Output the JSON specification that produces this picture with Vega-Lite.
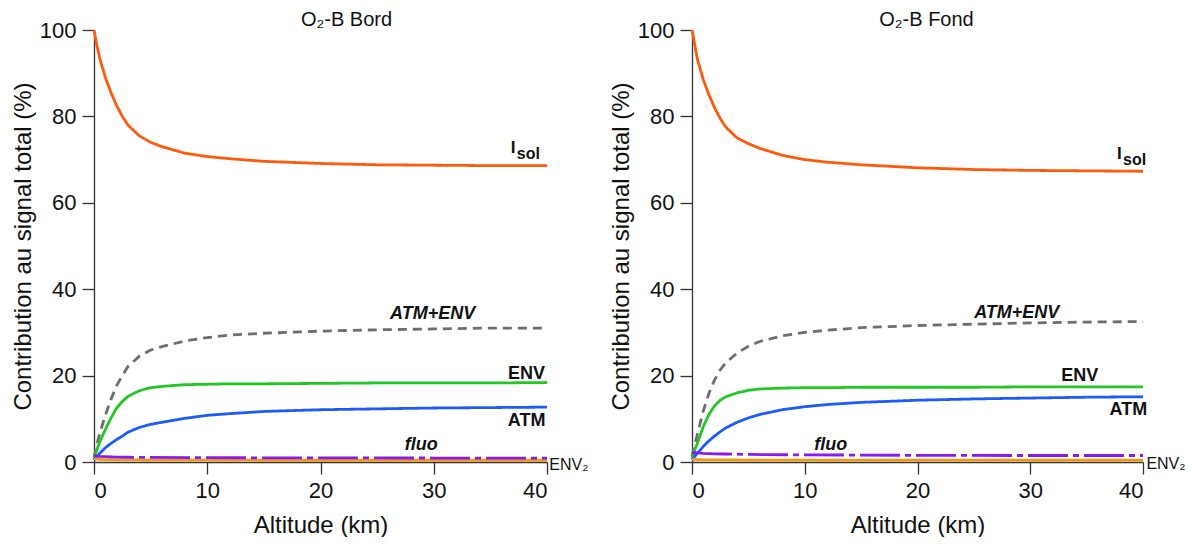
{
"$schema": "https://vega.github.io/schema/vega-lite/v6.json",
"background": "white",
"padding": {"left": 11, "top": 10, "right": 0, "bottom": 0},
"spacing": 145,
"bounds": "flush",
"config": {
  "font": "Liberation Sans",
  "view": {"stroke": null},
  "axis": {"grid": false, "domainColor": "#333333", "tickColor": "#333333", "labelColor": "#111111", "titleColor": "#111111", "labelFontSize": 22, "titleFontSize": 24, "titleFontWeight": "normal", "tickSize": 12, "labelPadding": 6, "domainWidth": 1.3, "tickWidth": 1.3},
  "title": {"fontSize": 20, "fontWeight": "normal", "offset": 1, "color": "#111111", "frame": "group", "dy": 12}
},
"datasets": {
  "curves": [
    {"panel":"Bord","series":"Isol","alt":0,"val":100},{"panel":"Bord","series":"Isol","alt":0.25,"val":96.5},{"panel":"Bord","series":"Isol","alt":0.5,"val":93.5},{"panel":"Bord","series":"Isol","alt":1,"val":89},{"panel":"Bord","series":"Isol","alt":1.5,"val":85.5},{"panel":"Bord","series":"Isol","alt":2,"val":82.5},{"panel":"Bord","series":"Isol","alt":2.5,"val":80},{"panel":"Bord","series":"Isol","alt":3,"val":78},{"panel":"Bord","series":"Isol","alt":4,"val":75.5},{"panel":"Bord","series":"Isol","alt":5,"val":74},{"panel":"Bord","series":"Isol","alt":6,"val":73},{"panel":"Bord","series":"Isol","alt":8,"val":71.5},{"panel":"Bord","series":"Isol","alt":10,"val":70.7},{"panel":"Bord","series":"Isol","alt":12,"val":70.2},{"panel":"Bord","series":"Isol","alt":15,"val":69.6},{"panel":"Bord","series":"Isol","alt":20,"val":69.1},{"panel":"Bord","series":"Isol","alt":25,"val":68.8},{"panel":"Bord","series":"Isol","alt":30,"val":68.7},{"panel":"Bord","series":"Isol","alt":35,"val":68.6},{"panel":"Bord","series":"Isol","alt":40,"val":68.6},
    {"panel":"Bord","series":"ATM+ENV","alt":0,"val":1},{"panel":"Bord","series":"ATM+ENV","alt":0.25,"val":4},{"panel":"Bord","series":"ATM+ENV","alt":0.5,"val":6.6},{"panel":"Bord","series":"ATM+ENV","alt":1,"val":10.8},{"panel":"Bord","series":"ATM+ENV","alt":1.5,"val":14.5},{"panel":"Bord","series":"ATM+ENV","alt":2,"val":17.7},{"panel":"Bord","series":"ATM+ENV","alt":2.5,"val":20},{"panel":"Bord","series":"ATM+ENV","alt":3,"val":22.1},{"panel":"Bord","series":"ATM+ENV","alt":4,"val":24.5},{"panel":"Bord","series":"ATM+ENV","alt":5,"val":25.9},{"panel":"Bord","series":"ATM+ENV","alt":6,"val":26.7},{"panel":"Bord","series":"ATM+ENV","alt":8,"val":28},{"panel":"Bord","series":"ATM+ENV","alt":10,"val":28.8},{"panel":"Bord","series":"ATM+ENV","alt":12,"val":29.4},{"panel":"Bord","series":"ATM+ENV","alt":15,"val":29.8},{"panel":"Bord","series":"ATM+ENV","alt":20,"val":30.3},{"panel":"Bord","series":"ATM+ENV","alt":25,"val":30.6},{"panel":"Bord","series":"ATM+ENV","alt":30,"val":30.8},{"panel":"Bord","series":"ATM+ENV","alt":35,"val":31},{"panel":"Bord","series":"ATM+ENV","alt":40,"val":31},
    {"panel":"Bord","series":"ENV","alt":0,"val":0.6},{"panel":"Bord","series":"ENV","alt":0.25,"val":2.8},{"panel":"Bord","series":"ENV","alt":0.5,"val":4.6},{"panel":"Bord","series":"ENV","alt":1,"val":7.5},{"panel":"Bord","series":"ENV","alt":1.5,"val":10.2},{"panel":"Bord","series":"ENV","alt":2,"val":12.5},{"panel":"Bord","series":"ENV","alt":2.5,"val":14},{"panel":"Bord","series":"ENV","alt":3,"val":15.2},{"panel":"Bord","series":"ENV","alt":4,"val":16.5},{"panel":"Bord","series":"ENV","alt":5,"val":17.2},{"panel":"Bord","series":"ENV","alt":6,"val":17.5},{"panel":"Bord","series":"ENV","alt":8,"val":17.9},{"panel":"Bord","series":"ENV","alt":10,"val":18},{"panel":"Bord","series":"ENV","alt":12,"val":18.1},{"panel":"Bord","series":"ENV","alt":15,"val":18.1},{"panel":"Bord","series":"ENV","alt":20,"val":18.2},{"panel":"Bord","series":"ENV","alt":25,"val":18.3},{"panel":"Bord","series":"ENV","alt":30,"val":18.3},{"panel":"Bord","series":"ENV","alt":35,"val":18.3},{"panel":"Bord","series":"ENV","alt":40,"val":18.4},
    {"panel":"Bord","series":"ATM","alt":0,"val":0.5},{"panel":"Bord","series":"ATM","alt":0.25,"val":1.2},{"panel":"Bord","series":"ATM","alt":0.5,"val":2},{"panel":"Bord","series":"ATM","alt":1,"val":3.3},{"panel":"Bord","series":"ATM","alt":1.5,"val":4.3},{"panel":"Bord","series":"ATM","alt":2,"val":5.2},{"panel":"Bord","series":"ATM","alt":2.5,"val":6},{"panel":"Bord","series":"ATM","alt":3,"val":6.9},{"panel":"Bord","series":"ATM","alt":4,"val":8},{"panel":"Bord","series":"ATM","alt":5,"val":8.7},{"panel":"Bord","series":"ATM","alt":6,"val":9.2},{"panel":"Bord","series":"ATM","alt":8,"val":10.1},{"panel":"Bord","series":"ATM","alt":10,"val":10.8},{"panel":"Bord","series":"ATM","alt":12,"val":11.2},{"panel":"Bord","series":"ATM","alt":15,"val":11.7},{"panel":"Bord","series":"ATM","alt":20,"val":12.1},{"panel":"Bord","series":"ATM","alt":25,"val":12.3},{"panel":"Bord","series":"ATM","alt":30,"val":12.5},{"panel":"Bord","series":"ATM","alt":35,"val":12.6},{"panel":"Bord","series":"ATM","alt":40,"val":12.7},
    {"panel":"Bord","series":"ENV2","alt":0,"val":0.8},{"panel":"Bord","series":"ENV2","alt":0.5,"val":0.6},{"panel":"Bord","series":"ENV2","alt":1,"val":0.55},{"panel":"Bord","series":"ENV2","alt":2,"val":0.5},{"panel":"Bord","series":"ENV2","alt":3,"val":0.48},{"panel":"Bord","series":"ENV2","alt":5,"val":0.45},{"panel":"Bord","series":"ENV2","alt":10,"val":0.42},{"panel":"Bord","series":"ENV2","alt":15,"val":0.41},{"panel":"Bord","series":"ENV2","alt":20,"val":0.4},{"panel":"Bord","series":"ENV2","alt":30,"val":0.4},{"panel":"Bord","series":"ENV2","alt":40,"val":0.4},
    {"panel":"Bord","series":"fluo","alt":0,"val":1.4},{"panel":"Bord","series":"fluo","alt":0.5,"val":1.3},{"panel":"Bord","series":"fluo","alt":1,"val":1.25},{"panel":"Bord","series":"fluo","alt":2,"val":1.15},{"panel":"Bord","series":"fluo","alt":3,"val":1.1},{"panel":"Bord","series":"fluo","alt":5,"val":1.05},{"panel":"Bord","series":"fluo","alt":10,"val":1},{"panel":"Bord","series":"fluo","alt":15,"val":0.97},{"panel":"Bord","series":"fluo","alt":20,"val":0.95},{"panel":"Bord","series":"fluo","alt":30,"val":0.92},{"panel":"Bord","series":"fluo","alt":40,"val":0.9},
    {"panel":"Fond","series":"Isol","alt":0,"val":100},{"panel":"Fond","series":"Isol","alt":0.25,"val":96.5},{"panel":"Fond","series":"Isol","alt":0.5,"val":93},{"panel":"Fond","series":"Isol","alt":1,"val":88.5},{"panel":"Fond","series":"Isol","alt":1.5,"val":85},{"panel":"Fond","series":"Isol","alt":2,"val":82},{"panel":"Fond","series":"Isol","alt":2.5,"val":79.5},{"panel":"Fond","series":"Isol","alt":3,"val":77.5},{"panel":"Fond","series":"Isol","alt":4,"val":75},{"panel":"Fond","series":"Isol","alt":5,"val":73.7},{"panel":"Fond","series":"Isol","alt":6,"val":72.6},{"panel":"Fond","series":"Isol","alt":8,"val":71},{"panel":"Fond","series":"Isol","alt":10,"val":70},{"panel":"Fond","series":"Isol","alt":12,"val":69.4},{"panel":"Fond","series":"Isol","alt":15,"val":68.8},{"panel":"Fond","series":"Isol","alt":20,"val":68.1},{"panel":"Fond","series":"Isol","alt":25,"val":67.7},{"panel":"Fond","series":"Isol","alt":30,"val":67.5},{"panel":"Fond","series":"Isol","alt":35,"val":67.4},{"panel":"Fond","series":"Isol","alt":40,"val":67.3},
    {"panel":"Fond","series":"ATM+ENV","alt":0,"val":1.3},{"panel":"Fond","series":"ATM+ENV","alt":0.25,"val":4.1},{"panel":"Fond","series":"ATM+ENV","alt":0.5,"val":6.6},{"panel":"Fond","series":"ATM+ENV","alt":1,"val":11.8},{"panel":"Fond","series":"ATM+ENV","alt":1.5,"val":15.9},{"panel":"Fond","series":"ATM+ENV","alt":2,"val":19},{"panel":"Fond","series":"ATM+ENV","alt":2.5,"val":21.3},{"panel":"Fond","series":"ATM+ENV","alt":3,"val":23},{"panel":"Fond","series":"ATM+ENV","alt":4,"val":25.2},{"panel":"Fond","series":"ATM+ENV","alt":5,"val":26.8},{"panel":"Fond","series":"ATM+ENV","alt":6,"val":27.9},{"panel":"Fond","series":"ATM+ENV","alt":8,"val":29.2},{"panel":"Fond","series":"ATM+ENV","alt":10,"val":30},{"panel":"Fond","series":"ATM+ENV","alt":12,"val":30.5},{"panel":"Fond","series":"ATM+ENV","alt":15,"val":31.1},{"panel":"Fond","series":"ATM+ENV","alt":20,"val":31.6},{"panel":"Fond","series":"ATM+ENV","alt":25,"val":31.9},{"panel":"Fond","series":"ATM+ENV","alt":30,"val":32.2},{"panel":"Fond","series":"ATM+ENV","alt":35,"val":32.4},{"panel":"Fond","series":"ATM+ENV","alt":40,"val":32.5},
    {"panel":"Fond","series":"ENV","alt":0,"val":0.8},{"panel":"Fond","series":"ENV","alt":0.25,"val":2.8},{"panel":"Fond","series":"ENV","alt":0.5,"val":4.5},{"panel":"Fond","series":"ENV","alt":1,"val":8.2},{"panel":"Fond","series":"ENV","alt":1.5,"val":11},{"panel":"Fond","series":"ENV","alt":2,"val":13},{"panel":"Fond","series":"ENV","alt":2.5,"val":14.3},{"panel":"Fond","series":"ENV","alt":3,"val":15.1},{"panel":"Fond","series":"ENV","alt":4,"val":16},{"panel":"Fond","series":"ENV","alt":5,"val":16.6},{"panel":"Fond","series":"ENV","alt":6,"val":16.9},{"panel":"Fond","series":"ENV","alt":8,"val":17.1},{"panel":"Fond","series":"ENV","alt":10,"val":17.2},{"panel":"Fond","series":"ENV","alt":12,"val":17.2},{"panel":"Fond","series":"ENV","alt":15,"val":17.3},{"panel":"Fond","series":"ENV","alt":20,"val":17.3},{"panel":"Fond","series":"ENV","alt":25,"val":17.3},{"panel":"Fond","series":"ENV","alt":30,"val":17.4},{"panel":"Fond","series":"ENV","alt":35,"val":17.4},{"panel":"Fond","series":"ENV","alt":40,"val":17.4},
    {"panel":"Fond","series":"ATM","alt":0,"val":0.5},{"panel":"Fond","series":"ATM","alt":0.25,"val":1.3},{"panel":"Fond","series":"ATM","alt":0.5,"val":2.1},{"panel":"Fond","series":"ATM","alt":1,"val":3.6},{"panel":"Fond","series":"ATM","alt":1.5,"val":4.9},{"panel":"Fond","series":"ATM","alt":2,"val":6},{"panel":"Fond","series":"ATM","alt":2.5,"val":7},{"panel":"Fond","series":"ATM","alt":3,"val":7.9},{"panel":"Fond","series":"ATM","alt":4,"val":9.2},{"panel":"Fond","series":"ATM","alt":5,"val":10.2},{"panel":"Fond","series":"ATM","alt":6,"val":11},{"panel":"Fond","series":"ATM","alt":8,"val":12.1},{"panel":"Fond","series":"ATM","alt":10,"val":12.8},{"panel":"Fond","series":"ATM","alt":12,"val":13.3},{"panel":"Fond","series":"ATM","alt":15,"val":13.8},{"panel":"Fond","series":"ATM","alt":20,"val":14.3},{"panel":"Fond","series":"ATM","alt":25,"val":14.6},{"panel":"Fond","series":"ATM","alt":30,"val":14.8},{"panel":"Fond","series":"ATM","alt":35,"val":15},{"panel":"Fond","series":"ATM","alt":40,"val":15.1},
    {"panel":"Fond","series":"ENV2","alt":0,"val":0.7},{"panel":"Fond","series":"ENV2","alt":0.5,"val":0.55},{"panel":"Fond","series":"ENV2","alt":1,"val":0.5},{"panel":"Fond","series":"ENV2","alt":2,"val":0.48},{"panel":"Fond","series":"ENV2","alt":3,"val":0.47},{"panel":"Fond","series":"ENV2","alt":5,"val":0.45},{"panel":"Fond","series":"ENV2","alt":10,"val":0.45},{"panel":"Fond","series":"ENV2","alt":15,"val":0.45},{"panel":"Fond","series":"ENV2","alt":20,"val":0.45},{"panel":"Fond","series":"ENV2","alt":30,"val":0.45},{"panel":"Fond","series":"ENV2","alt":40,"val":0.45},
    {"panel":"Fond","series":"fluo","alt":0,"val":2.2},{"panel":"Fond","series":"fluo","alt":0.5,"val":2.1},{"panel":"Fond","series":"fluo","alt":1,"val":2},{"panel":"Fond","series":"fluo","alt":2,"val":1.9},{"panel":"Fond","series":"fluo","alt":3,"val":1.85},{"panel":"Fond","series":"fluo","alt":5,"val":1.75},{"panel":"Fond","series":"fluo","alt":10,"val":1.65},{"panel":"Fond","series":"fluo","alt":15,"val":1.6},{"panel":"Fond","series":"fluo","alt":20,"val":1.55},{"panel":"Fond","series":"fluo","alt":30,"val":1.5},{"panel":"Fond","series":"fluo","alt":40,"val":1.5}
  ],
  "labels": [
    {"panel":"Bord","label":"Isol","lx":36.8,"ly":72.6},
    {"panel":"Bord","label":"ATM+ENV","lx":29.9,"ly":34.2},
    {"panel":"Bord","label":"ENV","lx":38.2,"ly":20.4},
    {"panel":"Bord","label":"ATM","lx":38.2,"ly":9.6},
    {"panel":"Bord","label":"fluo","lx":28.9,"ly":3.9},
    {"panel":"Bord","label":"ENV₂","lx":40.2,"ly":-0.7},
    {"panel":"Fond","label":"Isol","lx":37.7,"ly":71.2},
    {"panel":"Fond","label":"ATM+ENV","lx":28.8,"ly":34.5},
    {"panel":"Fond","label":"ENV","lx":34.4,"ly":19.9},
    {"panel":"Fond","label":"ATM","lx":38.7,"ly":12.0},
    {"panel":"Fond","label":"fluo","lx":12.3,"ly":3.9},
    {"panel":"Fond","label":"ENV₂","lx":40.3,"ly":-0.5}
  ]
},
"hconcat": [
  {
    "title": {"text": "O₂-B Bord", "dx": 26},
    "width": 453, "height": 432,
    "layer": [
      {
        "data": {"name": "curves"},
        "transform": [{"filter": "datum.panel === 'Bord'"}],
        "mark": {"type": "line", "strokeWidth": 2.8, "clip": false},
        "encoding": {
          "x": {"field": "alt", "type": "quantitative", "scale": {"domain": [0, 40], "nice": false, "zero": false}, "axis": {"title": "Altitude (km)", "values": [0, 10, 20, 30, 40], "titlePadding": 12}},
          "y": {"field": "val", "type": "quantitative", "scale": {"domain": [0, 100], "nice": false}, "axis": {"title": "Contribution au signal total (%)", "values": [0, 20, 40, 60, 80, 100], "titlePadding": 4}},
          "color": {"field": "series", "type": "nominal", "legend": null, "scale": {"domain": ["ENV2", "fluo", "ATM", "ENV", "ATM+ENV", "Isol"], "range": ["#F29A0E", "#8A1AF5", "#1A5CFF", "#22C822", "#6E6E6E", "#FF5A0A"]}},
          "strokeDash": {"field": "series", "type": "nominal", "legend": null, "scale": {"domain": ["ENV2", "fluo", "ATM", "ENV", "ATM+ENV", "Isol"], "range": [[1, 0], [40, 5, 6, 5], [1, 0], [1, 0], [9, 6], [1, 0]]}},
          "order": {"field": "alt", "type": "quantitative"}
        }
      },
      {
        "data": {"name": "labels"},
        "transform": [{"filter": "datum.panel === 'Bord' && (datum.label === 'ENV' || datum.label === 'ATM')"}],
        "mark": {"type": "text", "fontWeight": "bold", "fontSize": 18, "align": "center", "baseline": "middle", "color": "#111111"},
        "encoding": {"x": {"field": "lx", "type": "quantitative"}, "y": {"field": "ly", "type": "quantitative"}, "text": {"field": "label"}}
      },
      {
        "data": {"name": "labels"},
        "transform": [{"filter": "datum.panel === 'Bord' && (datum.label === 'ATM+ENV' || datum.label === 'fluo')"}],
        "mark": {"type": "text", "fontWeight": "bold", "fontStyle": "italic", "fontSize": 18, "align": "center", "baseline": "middle", "color": "#111111"},
        "encoding": {"x": {"field": "lx", "type": "quantitative"}, "y": {"field": "ly", "type": "quantitative"}, "text": {"field": "label"}}
      },
      {
        "data": {"name": "labels"},
        "transform": [{"filter": "datum.panel === 'Bord' && datum.label === 'ENV₂'"}],
        "mark": {"type": "text", "fontSize": 16, "align": "left", "baseline": "middle", "color": "#111111"},
        "encoding": {"x": {"field": "lx", "type": "quantitative"}, "y": {"field": "ly", "type": "quantitative"}, "text": {"field": "label"}}
      },
      {
        "data": {"name": "labels"},
        "transform": [{"filter": "datum.panel === 'Bord' && datum.label === 'Isol'"}],
        "mark": {"type": "text", "text": "I", "fontWeight": "bold", "fontSize": 17, "align": "left", "baseline": "middle", "color": "#111111"},
        "encoding": {"x": {"field": "lx", "type": "quantitative"}, "y": {"field": "ly", "type": "quantitative"}}
      },
      {
        "data": {"name": "labels"},
        "transform": [{"filter": "datum.panel === 'Bord' && datum.label === 'Isol'"}],
        "mark": {"type": "text", "text": "sol", "fontWeight": "bold", "fontSize": 16, "align": "left", "baseline": "middle", "dx": 6, "dy": 6, "color": "#111111"},
        "encoding": {"x": {"field": "lx", "type": "quantitative"}, "y": {"field": "ly", "type": "quantitative"}}
      }
    ]
  },
  {
    "title": {"text": "O₂-B Fond", "dx": 9},
    "width": 451, "height": 432,
    "layer": [
      {
        "data": {"name": "curves"},
        "transform": [{"filter": "datum.panel === 'Fond'"}],
        "mark": {"type": "line", "strokeWidth": 2.8, "clip": false},
        "encoding": {
          "x": {"field": "alt", "type": "quantitative", "scale": {"domain": [0, 40], "nice": false, "zero": false}, "axis": {"title": "Altitude (km)", "values": [0, 10, 20, 30, 40], "titlePadding": 12}},
          "y": {"field": "val", "type": "quantitative", "scale": {"domain": [0, 100], "nice": false}, "axis": {"title": "Contribution au signal total (%)", "values": [0, 20, 40, 60, 80, 100], "titlePadding": 4}},
          "color": {"field": "series", "type": "nominal", "legend": null, "scale": {"domain": ["ENV2", "fluo", "ATM", "ENV", "ATM+ENV", "Isol"], "range": ["#F29A0E", "#8A1AF5", "#1A5CFF", "#22C822", "#6E6E6E", "#FF5A0A"]}},
          "strokeDash": {"field": "series", "type": "nominal", "legend": null, "scale": {"domain": ["ENV2", "fluo", "ATM", "ENV", "ATM+ENV", "Isol"], "range": [[1, 0], [40, 5, 6, 5], [1, 0], [1, 0], [9, 6], [1, 0]]}},
          "order": {"field": "alt", "type": "quantitative"}
        }
      },
      {
        "data": {"name": "labels"},
        "transform": [{"filter": "datum.panel === 'Fond' && (datum.label === 'ENV' || datum.label === 'ATM')"}],
        "mark": {"type": "text", "fontWeight": "bold", "fontSize": 18, "align": "center", "baseline": "middle", "color": "#111111"},
        "encoding": {"x": {"field": "lx", "type": "quantitative"}, "y": {"field": "ly", "type": "quantitative"}, "text": {"field": "label"}}
      },
      {
        "data": {"name": "labels"},
        "transform": [{"filter": "datum.panel === 'Fond' && (datum.label === 'ATM+ENV' || datum.label === 'fluo')"}],
        "mark": {"type": "text", "fontWeight": "bold", "fontStyle": "italic", "fontSize": 18, "align": "center", "baseline": "middle", "color": "#111111"},
        "encoding": {"x": {"field": "lx", "type": "quantitative"}, "y": {"field": "ly", "type": "quantitative"}, "text": {"field": "label"}}
      },
      {
        "data": {"name": "labels"},
        "transform": [{"filter": "datum.panel === 'Fond' && datum.label === 'ENV₂'"}],
        "mark": {"type": "text", "fontSize": 16, "align": "left", "baseline": "middle", "color": "#111111"},
        "encoding": {"x": {"field": "lx", "type": "quantitative"}, "y": {"field": "ly", "type": "quantitative"}, "text": {"field": "label"}}
      },
      {
        "data": {"name": "labels"},
        "transform": [{"filter": "datum.panel === 'Fond' && datum.label === 'Isol'"}],
        "mark": {"type": "text", "text": "I", "fontWeight": "bold", "fontSize": 17, "align": "left", "baseline": "middle", "color": "#111111"},
        "encoding": {"x": {"field": "lx", "type": "quantitative"}, "y": {"field": "ly", "type": "quantitative"}}
      },
      {
        "data": {"name": "labels"},
        "transform": [{"filter": "datum.panel === 'Fond' && datum.label === 'Isol'"}],
        "mark": {"type": "text", "text": "sol", "fontWeight": "bold", "fontSize": 16, "align": "left", "baseline": "middle", "dx": 6, "dy": 6, "color": "#111111"},
        "encoding": {"x": {"field": "lx", "type": "quantitative"}, "y": {"field": "ly", "type": "quantitative"}}
      }
    ]
  }
]
}
